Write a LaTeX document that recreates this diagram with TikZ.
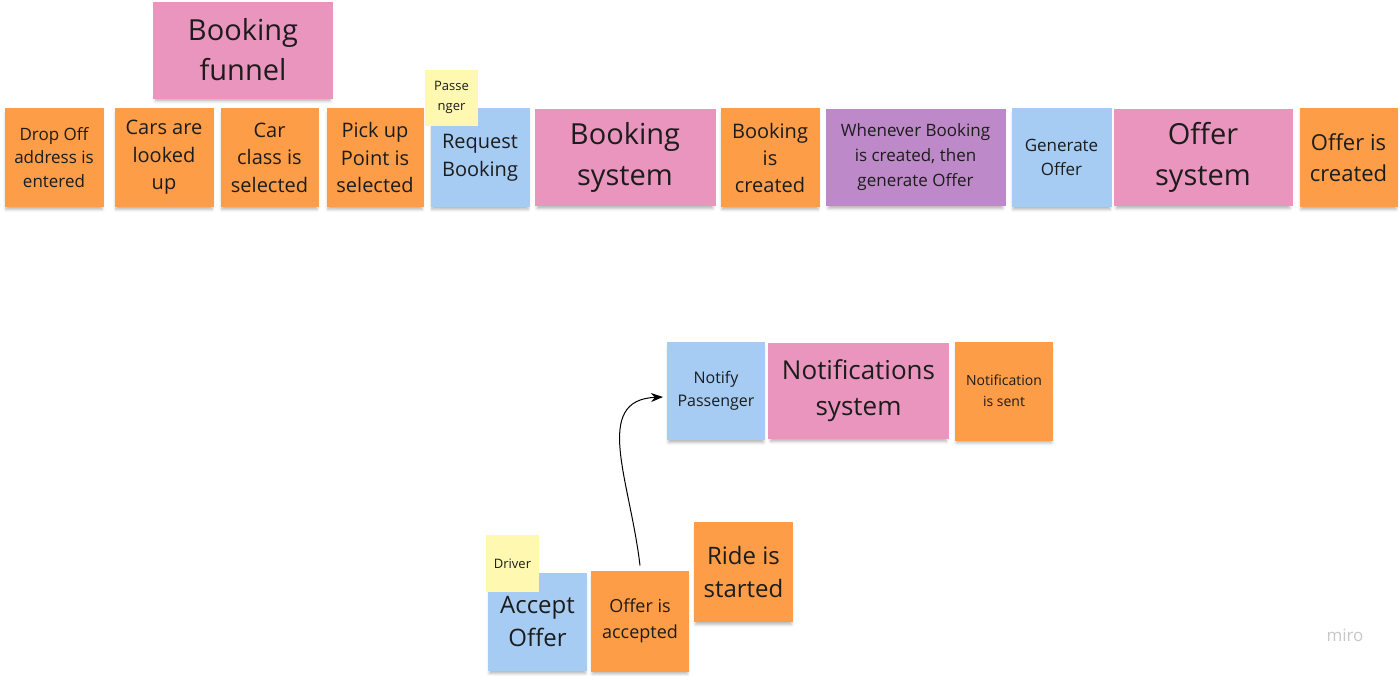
\documentclass[tikz,border=0pt]{standalone}
\usepackage{fontspec}
\setmainfont{Open Sans}
\usetikzlibrary{positioning,arrows.meta,shadows.blur}
\definecolor{evorange}{HTML}{FD9D48}
\definecolor{cmdblue}{HTML}{A7CCF3}
\definecolor{syspink}{HTML}{EA95BE}
\definecolor{polpurple}{HTML}{BE89C8}
\definecolor{actyellow}{HTML}{FFF8B0}
\definecolor{ink}{HTML}{1C1C1C}
\tikzstyle{note} = [rectangle, minimum width=99pt, minimum height=99pt, inner sep=2pt, outer sep=0pt, text centered, align=center, text=ink, blur shadow={shadow xshift=0pt, shadow yshift=-4pt, shadow scale=0.97, shadow opacity=30, shadow blur radius=3pt}]
\tikzstyle{event} = [note, fill=evorange]
\tikzstyle{command} = [note, fill=cmdblue]
\tikzstyle{system} = [note, fill=syspink, minimum width=180pt, minimum height=97pt]
\tikzstyle{policy} = [note, fill=polpurple, minimum width=180pt, minimum height=97pt]
\tikzstyle{actor} = [rectangle, fill=actyellow, minimum width=53pt, minimum height=56pt, inner sep=1pt, outer sep=0pt, text centered, align=center, text=ink, font=\fontsize{13}{20}\selectfont]
\tikzstyle{arrow} = [line width=1pt, ->, >={Stealth[length=12pt,width=9pt]}]
\begin{document}
\begin{tikzpicture}[x=1pt, y=-1pt]
  \useasboundingbox (0,0) rectangle (1400,675);
  % top row
  \node (funnel)[system, minimum height=97pt, font=\fontsize{29}{40}\selectfont] at (243,50) {Booking\\funnel};
  \node (drop)[event, font=\fontsize{17}{23.5}\selectfont] at (54,157.5) {Drop Off\\address is\\entered};
  \node (cars)[event, right=11pt of drop, font=\fontsize{20}{27.5}\selectfont] {Cars are\\looked\\up};
  \node (carclass)[event, right=7pt of cars, minimum width=98pt, font=\fontsize{20}{27.5}\selectfont] {Car\\class is\\selected};
  \node (pickup)[event, right=8pt of carclass, minimum width=97pt, font=\fontsize{20}{27.5}\selectfont] {Pick up\\Point is\\selected};
  \node (request)[command, right=7pt of pickup, font=\fontsize{20}{28}\selectfont] {Request\\Booking};
  \node (passenger)[actor] at (451.5,97.5) {Passe\\nger};
  \node (bsys)[system, right=5pt of request, minimum width=181pt, font=\fontsize{29}{41}\selectfont] {Booking\\system};
  \node (bcreated)[event, right=5pt of bsys, font=\fontsize{20}{27}\selectfont] {Booking\\is\\created};
  \node (policy)[policy, right=6pt of bcreated, font=\fontsize{17}{25}\selectfont] {Whenever Booking\\is created, then\\generate Offer};
  \node (genoffer)[command, right=6pt of policy, minimum width=100pt, font=\fontsize{17}{24}\selectfont] {Generate\\Offer};
  \node (osys)[system, right=2pt of genoffer, minimum width=179pt, font=\fontsize{29}{41}\selectfont] {Offer\\system};
  \node (ocreated)[event, right=7pt of osys, minimum width=98pt, font=\fontsize{22}{31}\selectfont] {Offer is\\created};
  % bottom group
  \node (notify)[command, minimum width=98pt, minimum height=98pt, font=\fontsize{16}{23}\selectfont] at (716,391) {Notify\\Passenger};
  \node (nsys)[system, right=3pt of notify, minimum width=181pt, minimum height=96pt, font=\fontsize{26}{36}\selectfont] {Notifications\\system};
  \node (nsent)[event, right=6pt of nsys, minimum width=98pt, font=\fontsize{14}{21}\selectfont] {Notification\\is sent};
  \node (accept)[command, minimum height=98pt, font=\fontsize{24}{33}\selectfont] at (537.5,622) {Accept\\Offer};
  \node (driver)[actor, minimum height=57pt] at (512.5,563.5) {Driver};
  \node (oaccepted)[event, minimum width=98pt, minimum height=101pt, font=\fontsize{18}{26}\selectfont] at (640,621) {Offer is\\accepted};
  \node (ride)[event, minimum height=100pt, font=\fontsize{24}{33}\selectfont] at (743.5,572) {Ride is\\started};
  \coordinate (from) at ([yshift=5pt]oaccepted.north);
  \coordinate (to) at ([xshift=-4pt,yshift=-6pt]notify.west);
  \draw [arrow] (from) .. controls (630,480) and (592,400) .. (to);
  \node (logo)[text=black!22, font=\fontsize{17}{20}\selectfont] at (1345,635) {miro};
\end{tikzpicture}
\end{document}
